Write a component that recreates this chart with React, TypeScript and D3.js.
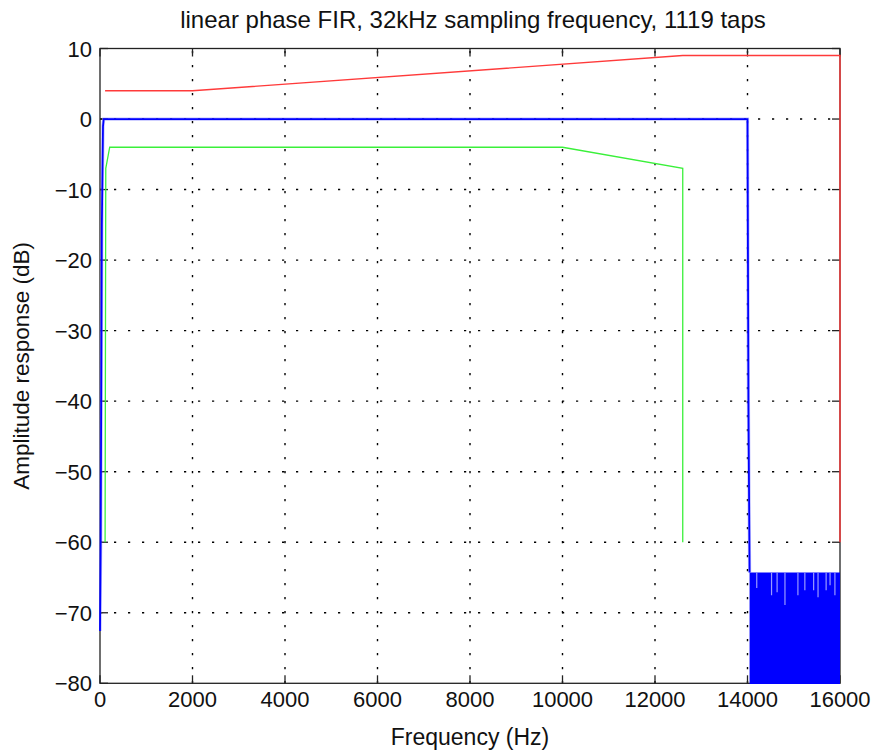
import React from "react";
import * as d3 from "d3";

const W = 877;
const H = 755;

const titleText = "linear phase FIR, 32kHz sampling frequency, 1119 taps";
const xLabel = "Frequency (Hz)";
const yLabel = "Amplitude response (dB)";

const xTicks = [0, 2000, 4000, 6000, 8000, 10000, 12000, 14000, 16000];
const yTicks = [10, 0, -10, -20, -30, -40, -50, -60, -70, -80];

// upper mask (red)
const redMask: [number, number][] = [
  [110, 4],
  [2000, 4],
  [12600, 9],
  [16000, 9],
  [16000, -60],
];

// lower mask (green)
const greenMask: [number, number][] = [
  [110, -60],
  [125, -7],
  [210, -4],
  [10000, -4],
  [12600, -7],
  [12600, -60],
];

// filter response (blue): passband and transitions
const bluePass: [number, number][] = [
  [0, -72.6],
  [15, -60],
  [40, -15],
  [65, -1],
  [80, 0],
  [14000, 0],
  [14020, -40],
  [14045, -64.3],
];

// stopband envelope (peaks of the dense ripple)
const stopbandTop: [number, number][] = [
  [14045, -64.3],
  [16000, -64.3],
];

// visible notches in the stopband fill [freq, deepest dB]
const stopNotches: [number, number][] = [
  [14200, -66.5],
  [14520, -67.5],
  [14640, -67.1],
  [14810, -68.9],
  [15090, -67.5],
  [15240, -66.8],
  [15430, -66.8],
  [15525, -67.8],
  [15700, -66.8],
  [15785, -66.1],
  [15890, -67.5],
];

export default function App() {
  const left = 100;
  const right = 840;
  const top = 48.5;
  const bottom = 683.3;
  const x = d3.scaleLinear().domain([0, 16000]).range([left, right]);
  const y = d3.scaleLinear().domain([-80, 10]).range([bottom, top]);

  const line = d3
    .line<[number, number]>()
    .x((d) => x(d[0]))
    .y((d) => y(d[1]));
  const area = d3
    .area<[number, number]>()
    .x((d) => x(d[0]))
    .y0(() => y(-80) + 0.7)
    .y1((d) => y(d[1]));

  const font = "'Liberation Sans', Arial, Helvetica, sans-serif";
  const tickLen = 8;
  const dash = "2.2,11.8";

  return (
    <svg
      width={W}
      height={H}
      style={{ position: "absolute", left: 0, top: 0, background: "#fff" }}
      fontFamily={font}
    >
      <defs>
        <clipPath id="plotClip">
          <rect x={left - 1} y={top - 1} width={right - left + 2} height={bottom - top + 2} />
        </clipPath>
      </defs>
      <rect x={0} y={0} width={W} height={H} fill="#fff" />

      {/* grid */}
      <g stroke="#000" strokeWidth={1.4} strokeDasharray={dash}>
        {xTicks
          .filter((t) => t > 0 && t < 16000)
          .map((t) => (
            <line key={"gx" + t} x1={x(t)} x2={x(t)} y1={bottom} y2={top} />
          ))}
        {yTicks
          .filter((t) => t > -80 && t < 10)
          .map((t) => (
            <line key={"gy" + t} x1={left} x2={right} y1={y(t)} y2={y(t)} />
          ))}
      </g>

      {/* frame */}
      <rect
        x={left}
        y={top}
        width={right - left}
        height={bottom - top}
        fill="none"
        stroke="#222"
        strokeWidth={1.3}
      />

      {/* ticks */}
      <g stroke="#222" strokeWidth={1.3}>
        {xTicks.map((t) => (
          <g key={"tx" + t}>
            <line x1={x(t)} x2={x(t)} y1={bottom} y2={bottom - tickLen} />
            <line x1={x(t)} x2={x(t)} y1={top} y2={top + tickLen} />
          </g>
        ))}
        {yTicks.map((t) => (
          <g key={"ty" + t}>
            <line x1={left} x2={left + tickLen} y1={y(t)} y2={y(t)} />
            <line x1={right} x2={right - tickLen} y1={y(t)} y2={y(t)} />
          </g>
        ))}
      </g>

      {/* data */}
      <g clipPath="url(#plotClip)">
        <path d={area(stopbandTop) || ""} fill="#0000ff" />
        <g stroke="#9a9aff" strokeWidth={1.2}>
          {stopNotches.map((n, i) => (
            <line key={"n" + i} x1={x(n[0])} x2={x(n[0])} y1={y(-64.3)} y2={y(n[1])} />
          ))}
        </g>
        <path d={line(bluePass) || ""} fill="none" stroke="#8080ff" strokeWidth={3.2} strokeOpacity={0.5} />
        <path d={line(bluePass) || ""} fill="none" stroke="#0000ff" strokeWidth={1.8} />
        <path d={line(greenMask) || ""} fill="none" stroke="#3af03a" strokeWidth={1.3} />
        <path d={line(redMask) || ""} fill="none" stroke="#ff3a3a" strokeWidth={1.4} />
      </g>

      {/* tick labels */}
      <g fontSize={22} fill="#111">
        {xTicks.map((t) => (
          <text key={"lx" + t} x={x(t)} y={bottom + 24} textAnchor="middle">
            {String(t)}
          </text>
        ))}
        {yTicks.map((t) => (
          <text key={"ly" + t} x={left - 8} y={y(t) + 8} textAnchor="end">
            {t < 0 ? "\u2212" + Math.abs(t) : String(t)}
          </text>
        ))}
      </g>

      {/* title & axis labels */}
      <text x={473} y={28} textAnchor="middle" fontSize={24} fill="#111">
        {titleText}
      </text>
      <text x={470} y={745} textAnchor="middle" fontSize={23} fill="#111">
        {xLabel}
      </text>
      <text
        transform={`translate(29, ${(top + bottom) / 2}) rotate(-90)`}
        textAnchor="middle"
        fontSize={22.5}
        fill="#111"
      >
        {yLabel}
      </text>
    </svg>
  );
}
